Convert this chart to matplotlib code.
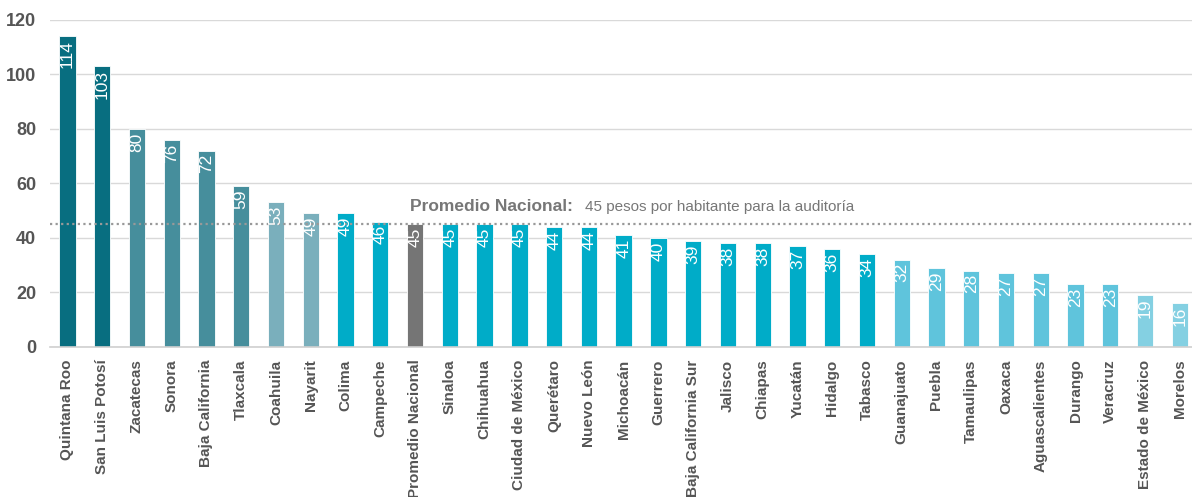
import matplotlib.pyplot as plt

estados = ["Quintana Roo", "San Luis Potosí", "Zacatecas", "Sonora", "Baja California",
           "Tlaxcala", "Coahuila", "Nayarit", "Colima", "Campeche", "Promedio Nacional",
           "Sinaloa", "Chihuahua", "Ciudad de México", "Querétaro", "Nuevo León",
           "Michoacán", "Guerrero", "Baja California Sur", "Jalisco", "Chiapas", "Yucatán",
           "Hidalgo", "Tabasco", "Guanajuato", "Puebla", "Tamaulipas", "Oaxaca",
           "Aguascalientes", "Durango", "Veracruz", "Estado de México", "Morelos"]
pesos = [114, 103, 80, 76, 72, 59, 53, 49, 49, 46, 45, 45, 45, 45, 44, 44, 41, 40, 39,
         38, 38, 37, 36, 34, 32, 29, 28, 27, 27, 23, 23, 19, 16]
grupo = [0, 0, 1, 1, 1, 1, 2, 2, 3, 3, 6, 3, 3, 3, 3, 3, 3, 3, 3, 3, 3, 3, 3, 3,
         4, 4, 4, 4, 4, 4, 4, 5, 5]
promedio = 45

paleta = ["#086e80", "#468e9c", "#7aafbc", "#00acc8", "#5fc4dc", "#84d0e2", "#757575"]
colores = [paleta[g] for g in grupo]

plt.rcParams['font.family'] = ['Liberation Sans', 'DejaVu Sans']

fig = plt.figure(figsize=(11.92, 4.97), dpi=100)
ax = fig.add_axes([0.042, 0.302, 0.958, 0.658])

x = list(range(len(estados)))
ax.bar(x, pesos, width=0.47, color=colores, edgecolor="white", linewidth=0.6, zorder=2)

for i, v in enumerate(pesos):
    ax.text(i, v - 1.3, str(v), rotation=90, ha="center", va="top",
            color="white", fontsize=12.5, zorder=4)

ax.axhline(promedio, color="#999999", linestyle=(0, (1, 1.5)), linewidth=1.6, zorder=3,
           xmin=0.0, clip_on=False)
ax.text(9.86, 48.8, "Promedio Nacional:", fontsize=12.5, fontweight="bold",
        color="#777777", va="bottom", ha="left")
ax.text(14.88, 48.8, "45 pesos por habitante para la auditoría", fontsize=11,
        color="#777777", va="bottom", ha="left")

ax.set_ylim(0, 120)
ax.set_xlim(-0.5, 32.35)
ax.set_yticks([0, 20, 40, 60, 80, 100, 120])
ax.yaxis.grid(True, color="#d9d9d9", linewidth=1, zorder=0)
ax.set_axisbelow(True)
for s in ["top", "right", "left"]:
    ax.spines[s].set_visible(False)
ax.spines["bottom"].set_color("#d0d0d0")
ax.spines["bottom"].set_linewidth(1.2)
ax.tick_params(axis="y", length=0, labelsize=13, labelcolor="#555555", pad=10)
ax.tick_params(axis="x", length=0, pad=9)
for t in ax.get_yticklabels():
    t.set_fontweight("bold")
ax.set_xticks(x)
ax.set_xticklabels(estados, rotation=90, fontsize=11, fontweight="bold", color="#555555")

fig.savefig("out.png", dpi=100)
